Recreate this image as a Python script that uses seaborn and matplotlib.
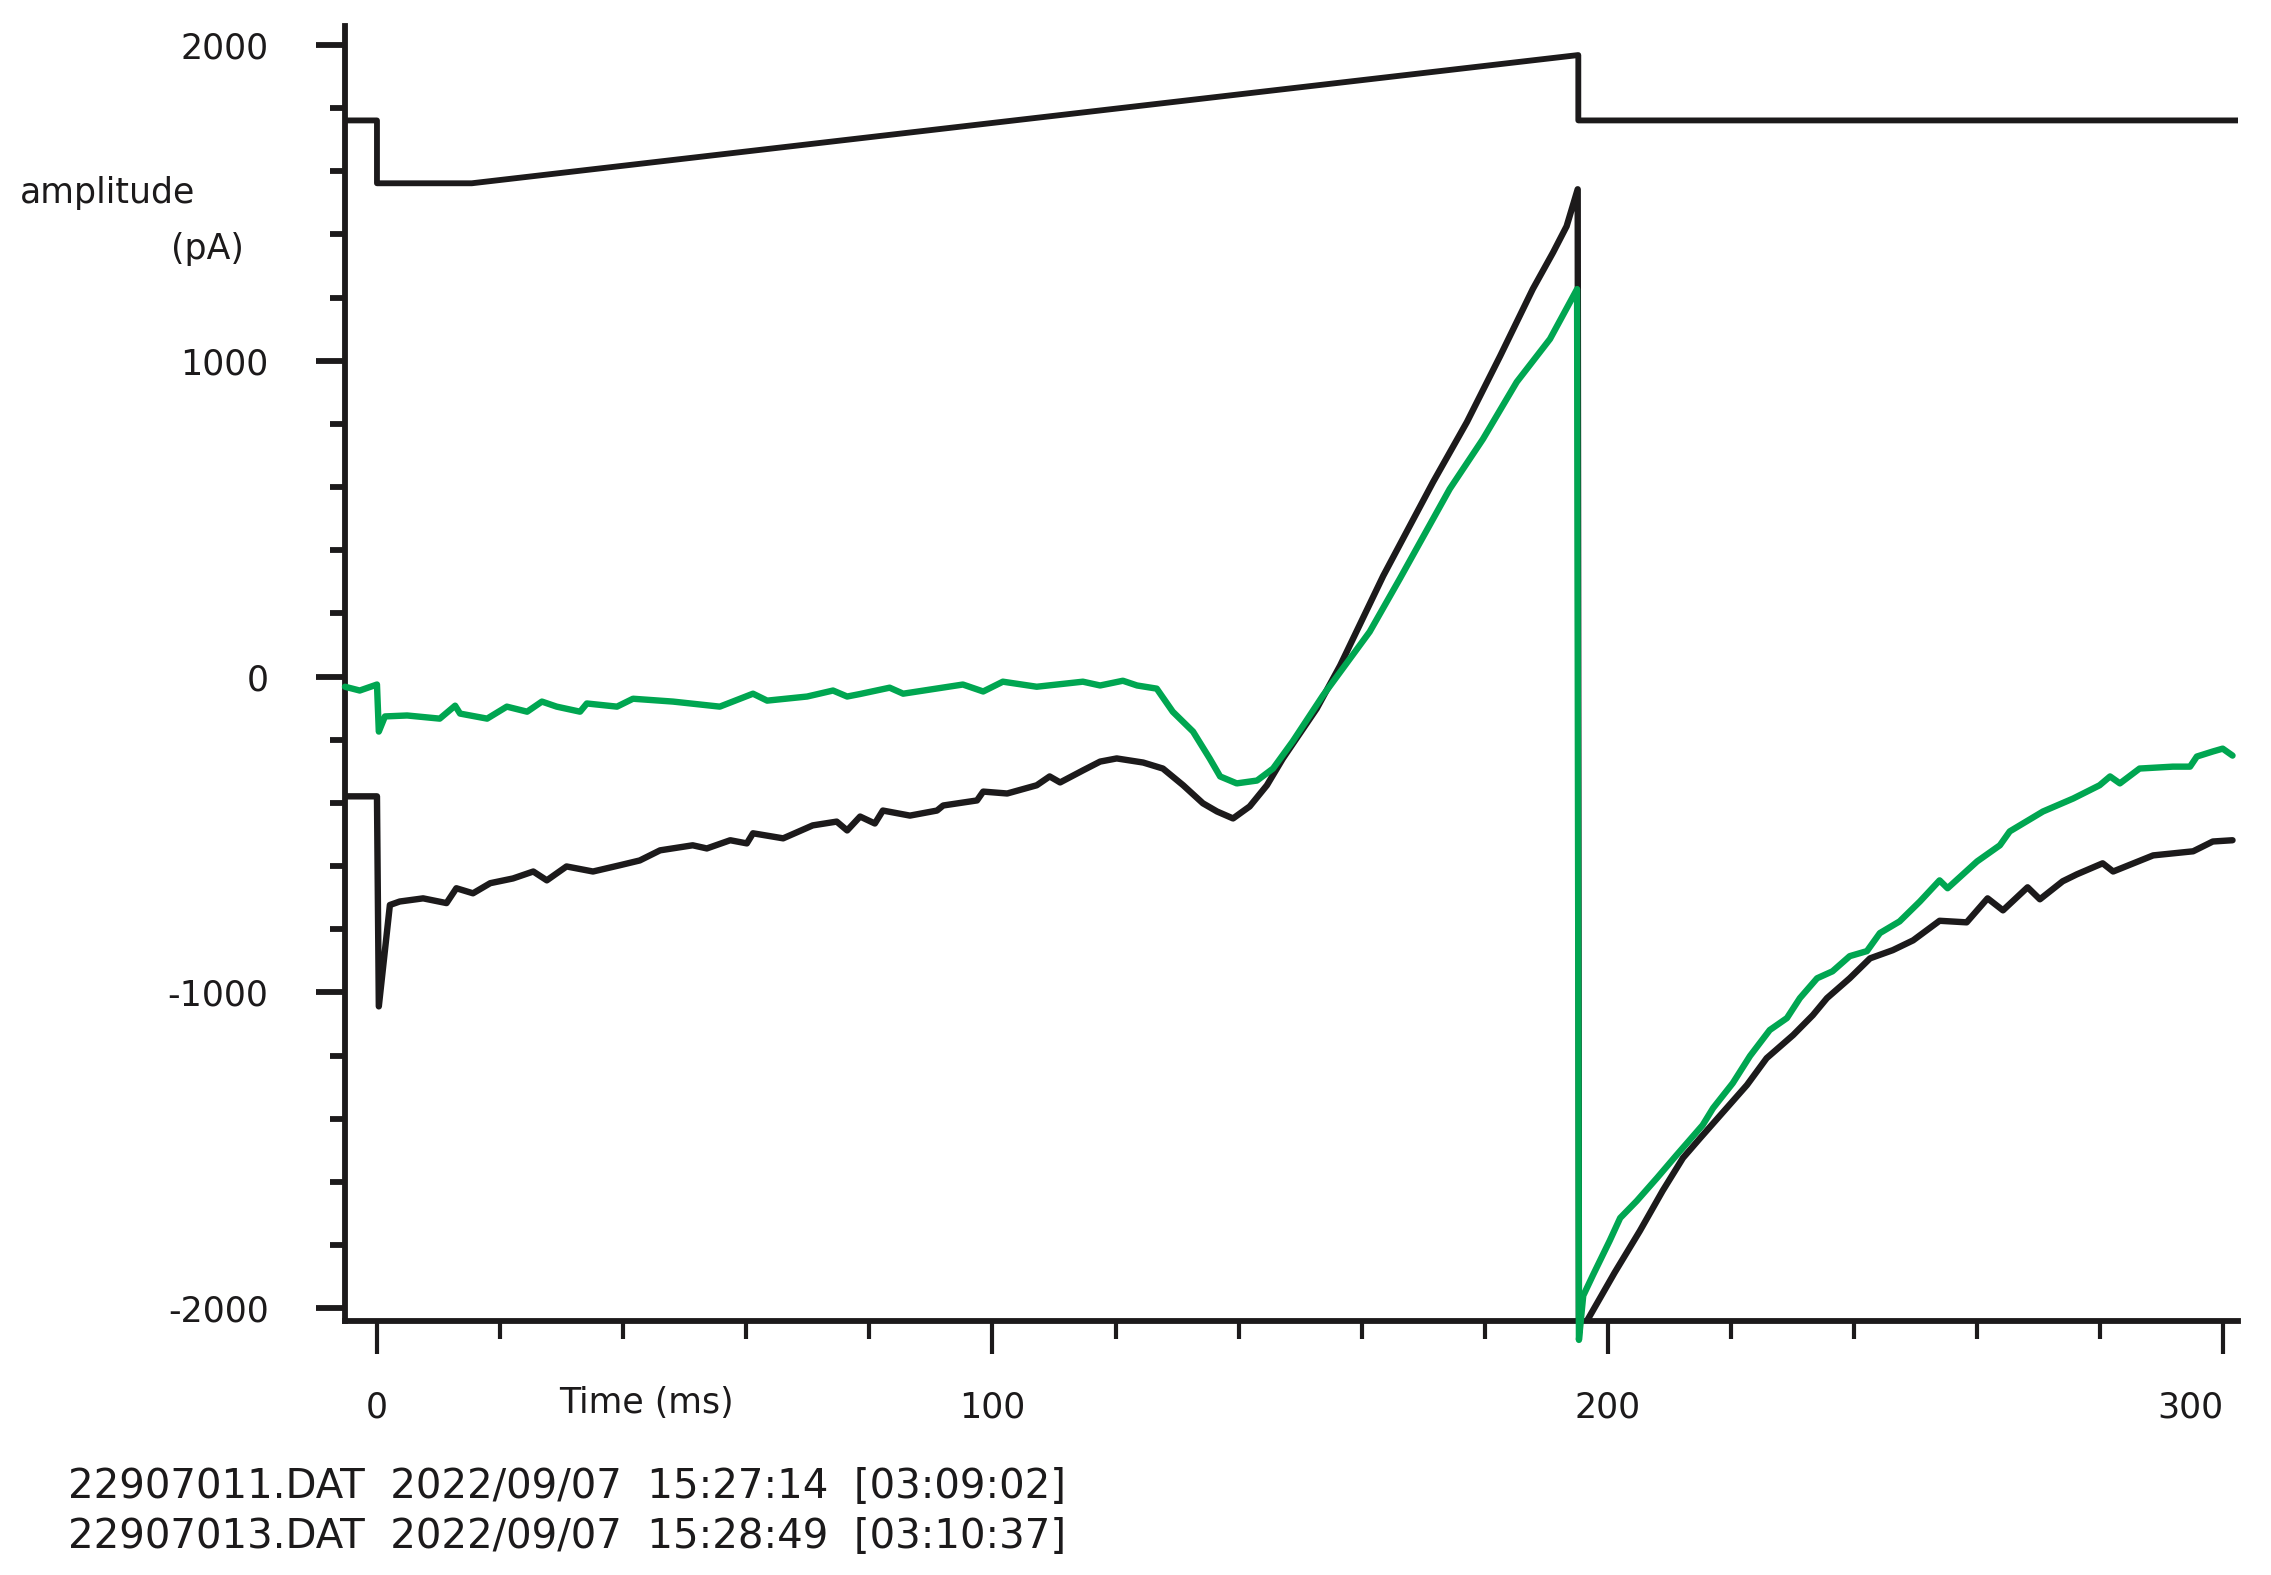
import matplotlib
matplotlib.use("Agg")
import matplotlib.pyplot as plt
import seaborn as sns
from matplotlib.ticker import MultipleLocator

# command trace (top)
cmd_t = [-5.2, 0.0, 0.0, 15.4, 195.2, 195.2, 302.4]
cmd_v = [1761, 1761, 1562, 1562, 1968, 1761, 1761]

# 22907011.DAT current (black)
black_t = [-5.2, 0.0, 0.3, 2.1, 3.7, 7.5, 11.3, 12.9, 15.6, 18.4, 22.1, 25.4, 27.6, 30.8,
           35.1, 39.5, 42.7, 46.0, 51.3, 53.6, 57.4, 60.1, 61.1, 66.0, 70.8, 74.7, 76.4,
           78.5, 80.9, 82.2, 86.6, 91.0, 92.0, 97.5, 98.5, 102.4, 107.2, 109.3, 111.0,
           114.7, 117.5, 120.2, 124.5, 127.7, 131.0, 134.2, 136.5, 139.1, 141.8, 144.6,
           147.2, 152.7, 156.5, 163.5, 171.6, 177.1, 182.5, 187.8, 191.1, 193.3, 195.1,
           195.3, 196.6, 201.1, 205.2, 208.9, 212.2, 215.0, 219.3, 222.6, 225.8, 230.1,
           233.3, 235.6, 239.3, 242.6, 246.3, 249.6, 253.9, 258.3, 261.7, 264.2, 268.2,
           270.2, 273.9, 276.2, 280.4, 282.1, 288.6, 295.1, 298.3, 301.5]
black_v = [-379, -379, -1044, -723, -712, -702, -717, -670, -686, -654, -639, -617, -645, -601,
           -617, -597, -582, -550, -534, -544, -518, -528, -496, -512, -471, -459, -487,
           -443, -465, -424, -440, -424, -408, -392, -364, -370, -344, -316, -335,
           -297, -269, -259, -272, -291, -344, -401, -427, -449, -411, -344,
           -259, -101, 35, 319, 616, 806, 1015, 1227, 1343, 1426, 1543,
           -2060, -2040, -1887, -1755, -1628, -1524, -1461, -1366, -1293, -1208, -1135,
           -1072, -1018, -955, -892, -866, -835, -773, -778, -702, -740, -667,
           -705, -648, -626, -591, -617, -566, -553, -522, -518]

# 22907013.DAT current (green)
green_t = [-5.2, -2.8, 0.0, 0.3, 1.3, 4.9, 10.2, 12.7, 13.5, 17.9, 21.1, 24.4, 26.8, 29.2,
           33.0, 34.1, 39.0, 41.6, 48.1, 55.7, 61.1, 63.4, 69.9, 74.1, 76.4, 78.5, 83.3,
           85.5, 95.2, 98.5, 101.7, 107.2, 114.7, 117.5, 121.2, 123.5, 126.7, 129.3,
           132.6, 135.3, 137.0, 139.7, 143.0, 145.6, 148.8, 153.7, 158.1, 161.3, 166.2,
           174.3, 179.7, 185.2, 190.6, 195.0, 195.3, 196.0, 197.6, 200.3, 202.0, 204.7,
           208.0, 211.2, 215.4, 217.1, 220.3, 223.1, 226.3, 229.1, 231.2, 234.0, 236.5,
           239.3, 242.1, 244.2, 247.4, 250.7, 253.9, 255.2, 260.0, 263.7, 265.3, 270.7,
           275.6, 279.9, 281.6, 283.2, 286.4, 291.8, 294.6, 295.7, 298.3, 299.9, 301.5]
green_v = [-32, -44, -25, -174, -126, -123, -133, -92, -117, -133, -95, -111, -79, -95,
           -111, -85, -95, -70, -79, -95, -54, -76, -63, -44, -63, -55, -35,
           -54, -25, -47, -16, -32, -16, -28, -13, -28, -38, -111,
           -174, -259, -316, -338, -329, -291, -205, -60, 57, 142, 310,
           594, 752, 933, 1069, 1227, -2100, -1960, -1894, -1786, -1714, -1660,
           -1587, -1514, -1420, -1366, -1287, -1201, -1119, -1081, -1018, -955, -933,
           -885, -869, -812, -775, -712, -645, -670, -585, -534, -490, -427,
           -386, -344, -316, -338, -291, -285, -285, -253, -237, -228, -250]

x_major = [0, 100, 200, 300]
y_major = [-2000, -1000, 0, 1000, 2000]
info_lines = ["22907011.DAT  2022/09/07  15:27:14  [03:09:02]",
              "22907013.DAT  2022/09/07  15:28:49  [03:10:37]"]

sns.set_style("ticks")
plt.rcParams["font.family"] = ["DejaVu Sans"]

ink = "#1c1a1b"
fig = plt.figure(figsize=(22.71, 15.75), dpi=100)
ax = fig.add_axes([0.1519, 0.1613, 0.8336, 0.8222])

sns.lineplot(x=black_t, y=black_v, estimator=None, sort=False, color=ink, lw=4.6, ax=ax)
sns.lineplot(x=green_t, y=green_v, estimator=None, sort=False, color="#00a651", lw=4.6, ax=ax,
             zorder=3, clip_on=False)
sns.lineplot(x=cmd_t, y=cmd_v, estimator=None, sort=False, color=ink, lw=4.2, ax=ax)

ax.set_xlim(-5.2, 302.4)
ax.set_ylim(-2040, 2060)

for s in ["top", "right"]:
    ax.spines[s].set_visible(False)
for s in ["left", "bottom"]:
    ax.spines[s].set_linewidth(4.2)
    ax.spines[s].set_color(ink)

ax.set_xticks(x_major)
ax.set_yticks(y_major)
ax.xaxis.set_minor_locator(MultipleLocator(20))
ax.yaxis.set_minor_locator(MultipleLocator(200))
ax.set_xticklabels([str(v) for v in x_major])
ax.set_yticklabels([str(v) for v in y_major])

ax.tick_params(axis="y", which="both", left=True, direction="out", width=4.2, color=ink)
ax.tick_params(axis="y", which="major", length=21, pad=34, labelsize=25, labelcolor=ink)
ax.tick_params(axis="y", which="minor", length=11)
ax.tick_params(axis="x", which="both", bottom=True, direction="out", width=3.0, color=ink)
ax.tick_params(axis="x", which="major", length=24, pad=26, labelsize=25, labelcolor=ink)
ax.tick_params(axis="x", which="minor", length=13)
ax.get_xticklabels()[-1].set_ha("right")
ax.set_xlabel("")
ax.set_ylabel("")

# axis titles placed like the acquisition software does
fig.text(20 / 2271, 1 - 193 / 1575, "amplitude", fontsize=25, ha="left", va="center", color=ink)
fig.text(171 / 2271, 1 - 249 / 1575, "(pA)", fontsize=25, ha="left", va="center", color=ink)
fig.text(646 / 2271, 1 - 1403 / 1575, "Time (ms)", fontsize=25, ha="center", va="center", color=ink)

# file info lines
fig.text(68 / 2271, 1 - 1487 / 1575, info_lines[0], fontsize=29, ha="left", va="center", color=ink)
fig.text(68 / 2271, 1 - 1537 / 1575, info_lines[1], fontsize=29, ha="left", va="center", color=ink)

fig.savefig("out.png", dpi=100, facecolor="white")
